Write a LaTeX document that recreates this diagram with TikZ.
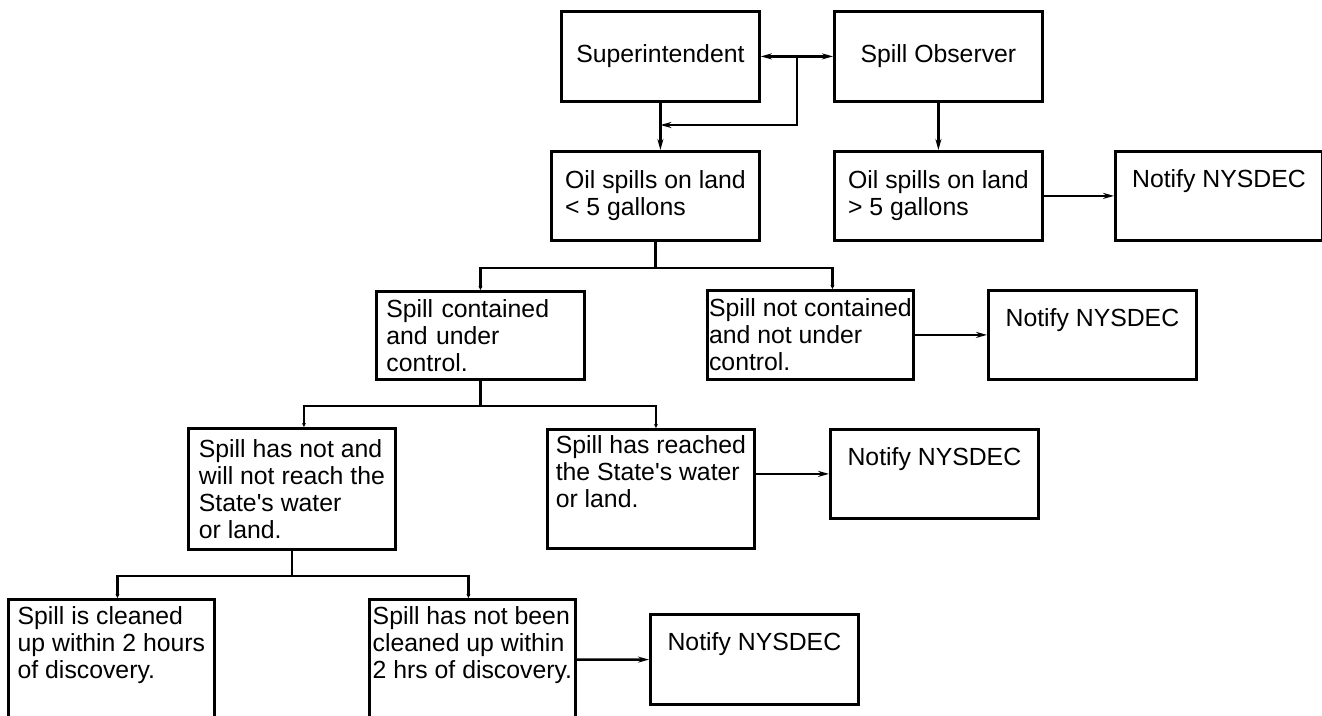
\documentclass[tikz,border=0pt]{standalone}
\usepackage{fontspec}
\setmainfont{Liberation Sans}
\usetikzlibrary{arrows.meta}
\tikzset{
  box/.style n args={2}{draw, line width=2.8pt, anchor=north west, inner sep=0pt,
    minimum width=#1pt, minimum height=#2pt, align=left},
  arrow/.style={-{Stealth[length=11pt,width=6pt]}},
  both/.style={{Stealth[length=11pt,width=6pt]}-{Stealth[length=11pt,width=6pt]}},
  tick/.style={-{Stealth[length=4pt,width=4pt]}},
}
\begin{document}
\begin{tikzpicture}[x=1pt, y=-1pt, line width=2.5pt,
    font=\fontsize{24.8pt}{27pt}\selectfont]
  \clip (0,0) rectangle (1322,715);
  % boxes
  \node[box={198}{90}] (sup) at (560,10) {Superintendent};
  \node[box={208}{90}] (obs) at (833,10) {Spill Observer};
  \node[box={208}{89}] (small) at (550,150) {Oil spills on land\\< 5 gallons};
  \node[box={208}{89}] (large) at (833,150) {Oil spills on land\\> 5 gallons};
  \node[box={207}{89}] (notify1) at (1114,150) {Notify NYSDEC\\\strut};
  \node[box={208}{88}, text width=188pt] (cont) at (375,290) {Spill contained\\and under\\control.};
  \node[box={206}{89}] (notcont) at (706,289) {Spill not contained\\and not under\\control.};
  \node[box={208}{89}] (notify2) at (987,289) {Notify NYSDEC\\\strut};
  \node[box={207}{121}] (notreach) at (187,427) {Spill has not and\\will not reach the\\State\textquotesingle s water\\or land.};
  \node[box={207}{119}] (reached) at (546,428) {Spill has reached\\the State\textquotesingle s water\\or land.\\\strut};
  \node[box={208}{89}] (notify3) at (829,428) {Notify NYSDEC\\\strut};
  \node[box={206}{121}] (cleaned) at (7,598) {Spill is cleaned\\up within 2 hours\\of discovery.\\\strut};
  \node[box={206}{121}] (notclean) at (368,598) {Spill has not been\\cleaned up within\\2 hrs of discovery.\\\strut};
  \node[box={208}{90}] (notify4) at (649,613) {Notify NYSDEC\\\strut};
  % top links
  \coordinate (jn) at (797,55);
  \coordinate (mg) at (sup.south |- 0,125);
  \draw[both] (sup) -- (obs);
  \draw[arrow] (jn) |- (mg);
  \draw[arrow] (sup.south) -- (sup.south |- small.north);
  \draw[arrow] (obs) -- (large);
  \draw[arrow] (large) -- (notify1);
  % branches
  \draw[tick] (small.south) -- ++(0,26) -| (cont.north);
  \draw[tick] (small.south) ++(0,26) -| ([xshift=22pt]notcont.north);
  \draw[tick] (cont.south) -- ++(0,25) -| ([xshift=12pt]notreach.north);
  \draw[tick] (cont.south) ++(0,25) -| ([xshift=5pt]reached.north);
  \draw[tick] (notreach.south) -- ++(0,25) -| ([xshift=6pt]cleaned.north);
  \draw[tick] (notreach.south) ++(0,25) -| ([xshift=-4pt]notclean.north);
  % notify links
  \draw[arrow] (notcont) -- (notify2);
  \draw[arrow] (reached.east |- notify3) -- (notify3);
  \draw[arrow] (notclean) -- (notify4);
\end{tikzpicture}
\end{document}
